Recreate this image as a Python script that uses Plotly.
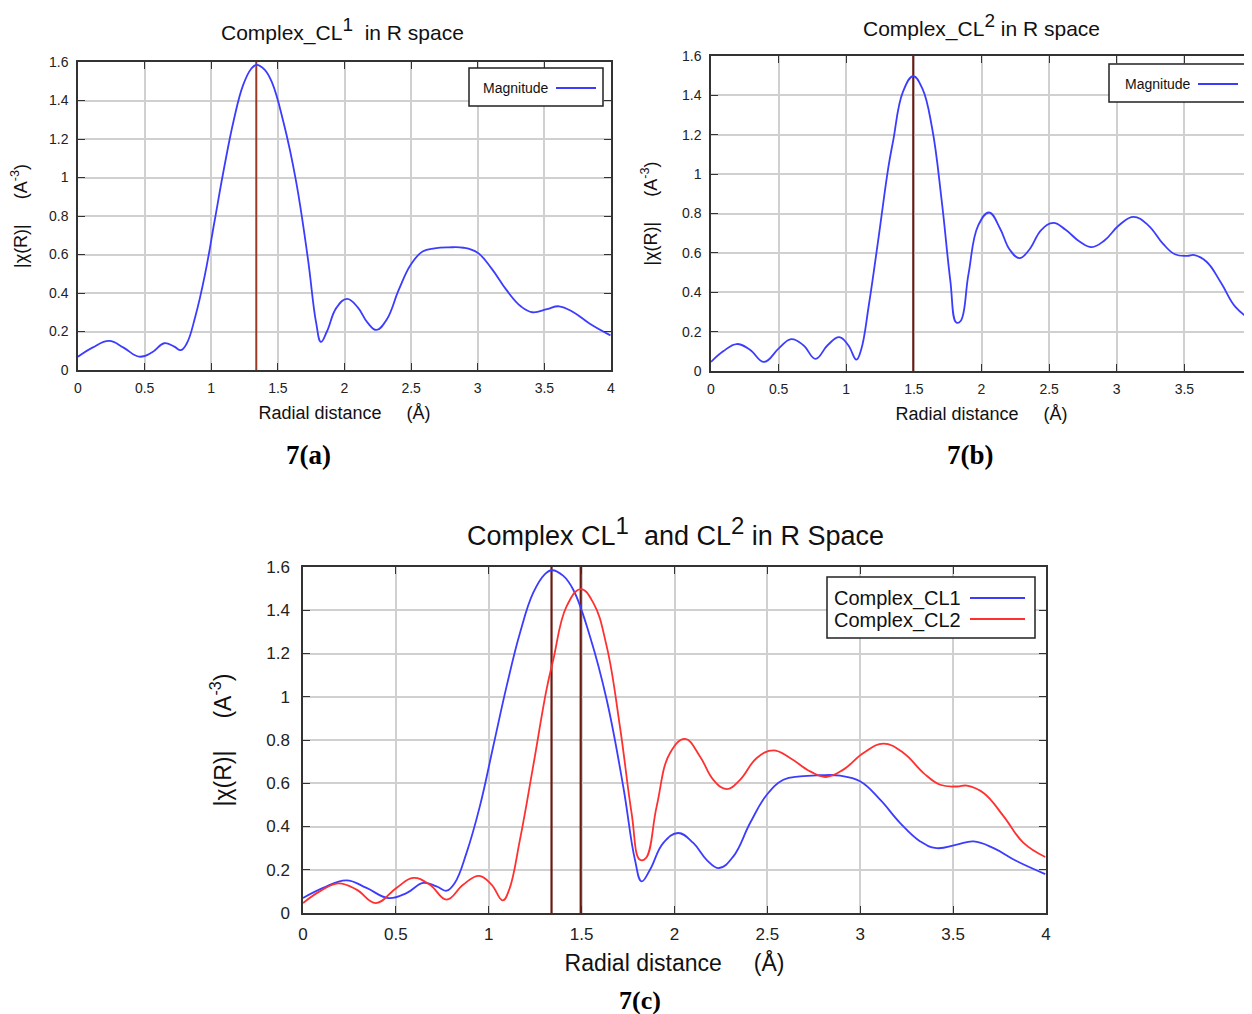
import plotly.graph_objects as go

# ---------------- data ----------------
r_cl1 = [0, 0.108, 0.234, 0.342, 0.46, 0.557, 0.647, 0.719, 0.773, 0.817, 0.88, 0.952, 1.024, 1.096, 1.168,
         1.239, 1.30, 1.34, 1.40, 1.455, 1.545, 1.635, 1.724, 1.787, 1.823, 1.868, 1.94, 2.02, 2.101, 2.173,
         2.24, 2.317, 2.407, 2.497, 2.586, 2.676, 2.78, 2.892, 2.999, 3.107, 3.215, 3.323, 3.41, 3.52, 3.61,
         3.718, 3.844, 3.996]
chi_cl1 = [0.069, 0.116, 0.151, 0.116, 0.069, 0.092, 0.139, 0.123, 0.103, 0.139, 0.277, 0.493, 0.770, 1.048, 1.295,
           1.48, 1.565, 1.585, 1.56, 1.495, 1.279, 0.986, 0.585, 0.246, 0.146, 0.200, 0.324, 0.370, 0.324, 0.246,
           0.208, 0.262, 0.416, 0.547, 0.616, 0.632, 0.637, 0.635, 0.609, 0.524, 0.416, 0.331, 0.30, 0.316, 0.331,
           0.30, 0.239, 0.180]

r_cl2 = [0, 0.09, 0.19, 0.288, 0.392, 0.503, 0.593, 0.683, 0.773, 0.862, 0.948, 1.015, 1.075, 1.11, 1.168,
         1.239, 1.311, 1.347, 1.419, 1.495, 1.563, 1.635, 1.706, 1.769, 1.814, 1.846, 1.904, 1.976, 2.057, 2.137,
         2.209, 2.281, 2.353, 2.443, 2.532, 2.622, 2.73, 2.815, 2.909, 3.017, 3.125, 3.233, 3.341, 3.43, 3.52,
         3.574, 3.664, 3.772, 3.879, 3.996]
chi_cl2 = [0.046, 0.10, 0.137, 0.108, 0.046, 0.116, 0.162, 0.131, 0.062, 0.131, 0.172, 0.131, 0.058, 0.108, 0.339,
           0.678, 1.033, 1.17, 1.418, 1.498, 1.434, 1.233, 0.863, 0.462, 0.246, 0.254, 0.493, 0.740, 0.805, 0.724,
           0.616, 0.573, 0.616, 0.717, 0.752, 0.717, 0.655, 0.629, 0.663, 0.740, 0.783, 0.740, 0.647, 0.593, 0.585,
           0.589, 0.555, 0.447, 0.324, 0.259]

peak_cl1 = 1.338
peak_cl2 = 1.495

x_ticks = [0, 0.5, 1, 1.5, 2, 2.5, 3, 3.5, 4]
y_ticks = [0, 0.2, 0.4, 0.6, 0.8, 1, 1.2, 1.4, 1.6]

# ---------------- styling ----------------
PAGE_OFF = 8                     # default body margin of the html page
W, H = 1252 - PAGE_OFF, 1014 - PAGE_OFF
BLUE = "#3c3cff"
RED = "#ff3030"
VLINE_A = "#9a3a22"
VLINE = "#6a1a10"
FONT = "Liberation Sans, Arial, sans-serif"
SERIF = "Liberation Serif, Times New Roman, serif"
SPLINE = dict(shape="spline", smoothing=1.2)


def px(x):
    return min(1.0, (x - PAGE_OFF) / W)


def py(y):
    return 1 - (y - PAGE_OFF) / H


def sup(t, size):
    return "<sup><span style='font-size:%dpx'>%s</span></sup>" % (size, t)


fig = go.Figure()

# panel a
fig.add_trace(go.Scatter(x=[peak_cl1, peak_cl1], y=[0, 1.6], mode="lines",
                         line=dict(color=VLINE_A, width=2), xaxis="x", yaxis="y", showlegend=False))
fig.add_trace(go.Scatter(x=r_cl1, y=chi_cl1, mode="lines", line=dict(color=BLUE, width=1.8, **SPLINE),
                         xaxis="x", yaxis="y", name="Magnitude", showlegend=False))
# panel b
fig.add_trace(go.Scatter(x=[peak_cl2, peak_cl2], y=[0, 1.6], mode="lines",
                         line=dict(color=VLINE, width=2), xaxis="x2", yaxis="y2", showlegend=False))
fig.add_trace(go.Scatter(x=r_cl2, y=chi_cl2, mode="lines", line=dict(color=BLUE, width=1.8, **SPLINE),
                         xaxis="x2", yaxis="y2", name="Magnitude", showlegend=False))
# panel c
for pk in (peak_cl1, peak_cl2):
    fig.add_trace(go.Scatter(x=[pk, pk], y=[0, 1.6], mode="lines",
                             line=dict(color=VLINE, width=2.2), xaxis="x3", yaxis="y3", showlegend=False))
fig.add_trace(go.Scatter(x=r_cl1, y=chi_cl1, mode="lines", line=dict(color=BLUE, width=1.8, **SPLINE),
                         xaxis="x3", yaxis="y3", name="Complex_CL1", showlegend=False))
fig.add_trace(go.Scatter(x=r_cl2, y=chi_cl2, mode="lines", line=dict(color=RED, width=1.8, **SPLINE),
                         xaxis="x3", yaxis="y3", name="Complex_CL2", showlegend=False))


def xaxis(domain, anchor, size, title_size, standoff, lab_off):
    return dict(domain=domain, anchor=anchor, range=[0, 4], tickvals=x_ticks, ticks="inside", ticklen=7,
                tickcolor="#333", showline=True, linecolor="#333", linewidth=1.5, mirror="ticks",
                showgrid=True, gridcolor="#d0d0d0", gridwidth=1.5, zeroline=False, automargin=False,
                ticklabelstandoff=lab_off,
                tickfont=dict(family=FONT, size=size, color="#222"),
                title=dict(text="Radial distance     (Å)", font=dict(family=FONT, size=title_size, color="#111"),
                           standoff=standoff))


def yaxis(domain, anchor, size, title_size, standoff, lab_off):
    return dict(domain=domain, anchor=anchor, range=[0, 1.6], tickvals=y_ticks, ticks="inside", ticklen=7,
                tickcolor="#333", showline=True, linecolor="#333", linewidth=1.5, mirror="ticks",
                showgrid=True, gridcolor="#d0d0d0", gridwidth=1.5, zeroline=False, automargin=False,
                ticklabelstandoff=lab_off,
                tickfont=dict(family=FONT, size=size, color="#222"),
                title=dict(text="|χ(R)|     (A<sup>-3</sup>)", font=dict(family=FONT, size=title_size, color="#111"),
                           standoff=standoff))


fig.update_layout(
    width=W, height=H, margin=dict(l=0, r=0, t=0, b=0, autoexpand=False),
    paper_bgcolor="white", plot_bgcolor="white", showlegend=False,
    xaxis=xaxis([px(78), px(611)], "y", 14, 18, 12, 4),
    yaxis=yaxis([py(370), py(62)], "x", 14, 18, 20, 5),
    xaxis2=xaxis([px(711), 1.0], "y2", 14, 18, 12, 4),
    yaxis2=yaxis([py(371), py(56)], "x2", 14, 18, 20, 5),
    xaxis3=xaxis([px(303), px(1046)], "y3", 17, 23, 12, 5),
    yaxis3=yaxis([py(913), py(567)], "x3", 17, 23, 28, 8),
)

annotations = [
    dict(x=px(343), y=py(30), text="Complex_CL" + sup("1", 19) + "  in R space", font=dict(family=FONT, size=21, color="#111")),
    dict(x=px(982), y=py(25), text="Complex_CL" + sup("2", 19) + " in R space", font=dict(family=FONT, size=21, color="#111")),
    dict(x=px(675), y=py(531), text="Complex CL" + sup("1", 24) + "  and CL" + sup("2", 24) + " in R Space",
         font=dict(family=FONT, size=27, color="#111")),
    dict(x=px(308), y=py(455), text="<b>7(a)</b>", font=dict(family=SERIF, size=27, color="#000")),
    dict(x=px(970), y=py(455), text="<b>7(b)</b>", font=dict(family=SERIF, size=27, color="#000")),
    dict(x=px(640), y=py(1000), text="<b>7(c)</b>", font=dict(family=SERIF, size=26, color="#000")),
    # legend texts
    dict(x=px(516), y=py(88), text="Magnitude", font=dict(family=FONT, size=14, color="#111")),
    dict(x=px(1158), y=py(84), text="Magnitude", font=dict(family=FONT, size=14, color="#111")),
    dict(x=px(832), y=py(598), text="Complex_CL1", xanchor="left", font=dict(family=FONT, size=20, color="#111")),
    dict(x=px(832), y=py(620), text="Complex_CL2", xanchor="left", font=dict(family=FONT, size=20, color="#111")),
]
for a in annotations:
    a.setdefault("xanchor", "center")
    a.update(xref="paper", yref="paper", yanchor="middle", showarrow=False)
fig.update_layout(annotations=annotations)

shapes = [
    dict(type="rect", x0=px(469), x1=px(603), y0=py(106), y1=py(68), line=dict(color="#222", width=1.5), fillcolor="white"),
    dict(type="line", x0=px(556), x1=px(596), y0=py(88), y1=py(88), line=dict(color=BLUE, width=2)),
    dict(type="rect", x0=px(1109), x1=px(1245), y0=py(102), y1=py(64), line=dict(color="#222", width=1.5), fillcolor="white"),
    dict(type="line", x0=px(1198), x1=px(1238), y0=py(84), y1=py(84), line=dict(color=BLUE, width=2)),
    dict(type="rect", x0=px(827), x1=px(1035), y0=py(638), y1=py(577), line=dict(color="#222", width=1.5), fillcolor="white"),
    dict(type="line", x0=px(970), x1=px(1025), y0=py(598), y1=py(598), line=dict(color=BLUE, width=2)),
    dict(type="line", x0=px(970), x1=px(1025), y0=py(619), y1=py(619), line=dict(color=RED, width=2)),
]
for s in shapes:
    s.update(xref="paper", yref="paper")
fig.update_layout(shapes=shapes)

fig.write_html("out.html")
